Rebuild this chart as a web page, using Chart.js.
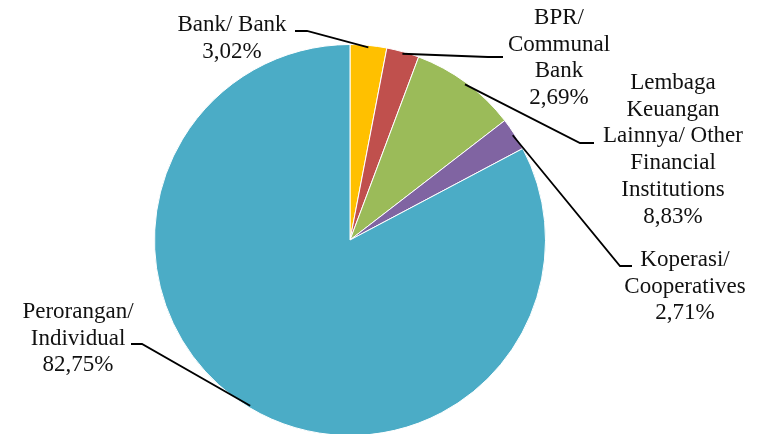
<!DOCTYPE html>
<html>
<head>
<meta charset="utf-8">
<script src="https://cdn.jsdelivr.net/npm/chart.js@4"></script>
<style>
  html, body { margin: 0; padding: 0; background: #fff; overflow: hidden; }
  #wrap { width: 758px; height: 434px; overflow: hidden; position: relative; }
  canvas { display: block; }
</style>
</head>
<body>
<div id="wrap"><canvas id="c" width="758" height="440"></canvas></div>
<script>
// Debtor composition by type (share in %)
const categories = [
  ['Bank/ Bank'],
  ['BPR/', 'Communal', 'Bank'],
  ['Lembaga', 'Keuangan', 'Lainnya/ Other', 'Financial', 'Institutions'],
  ['Koperasi/', 'Cooperatives'],
  ['Perorangan/', 'Individual']
];
const shares = [3.02, 2.69, 8.83, 2.71, 82.75];
const colors = ['#FFC000', '#C0504D', '#9BBB59', '#8064A2', '#4BACC6'];

// Label placement: text centre x, first line centre y, leader elbow and end point
const labelLayout = [
  { x: 232, y: 25, elbow: [307, 31], end: [295, 31] },
  { x: 559, y: 18, elbow: [488, 57], end: [503, 57] },
  { x: 673, y: 83, elbow: [580, 143], end: [594, 143] },
  { x: 685, y: 260, elbow: [620, 266], end: [632, 266] },
  { x: 78,  y: 312, elbow: [142, 344], end: [131, 344] }
];

const fmt = v => v.toFixed(2).replace('.', ',') + '%';

const calloutPlugin = {
  id: 'callouts',
  afterDatasetsDraw(chart) {
    const ctx = chart.ctx;
    const meta = chart.getDatasetMeta(0);
    ctx.save();
    meta.data.forEach((arc, i) => {
      const p = arc.getProps(['x', 'y', 'startAngle', 'endAngle', 'outerRadius'], true);
      const mid = (p.startAngle + p.endAngle) / 2;
      const r = p.outerRadius - 2;
      const ax = p.x + Math.cos(mid) * r;
      const ay = p.y + Math.sin(mid) * r;
      const L = labelLayout[i];
      ctx.strokeStyle = '#000';
      ctx.lineWidth = 1.8;
      ctx.beginPath();
      ctx.moveTo(ax, ay);
      ctx.lineTo(L.elbow[0], L.elbow[1]);
      ctx.lineTo(L.end[0], L.end[1]);
      ctx.stroke();

      const lines = categories[i].concat([fmt(shares[i])]);
      ctx.fillStyle = '#111';
      ctx.font = '23px "Liberation Serif", "Times New Roman", serif';
      ctx.textAlign = 'center';
      ctx.textBaseline = 'middle';
      lines.forEach((t, k) => ctx.fillText(t, L.x, L.y + k * 26.7));
    });
    ctx.restore();
  }
};

new Chart(document.getElementById('c'), {
  type: 'pie',
  data: {
    labels: categories.map(c => c.join(' ')),
    datasets: [{
      data: shares,
      backgroundColor: colors,
      borderColor: '#ffffff',
      borderWidth: 1
    }]
  },
  options: {
    responsive: false,
    animation: false,
    layout: { padding: { left: 154, right: 212, top: 44, bottom: 4 } },
    plugins: {
      legend: { display: false },
      tooltip: { enabled: false }
    }
  },
  plugins: [calloutPlugin]
});
</script>
</body>
</html>
